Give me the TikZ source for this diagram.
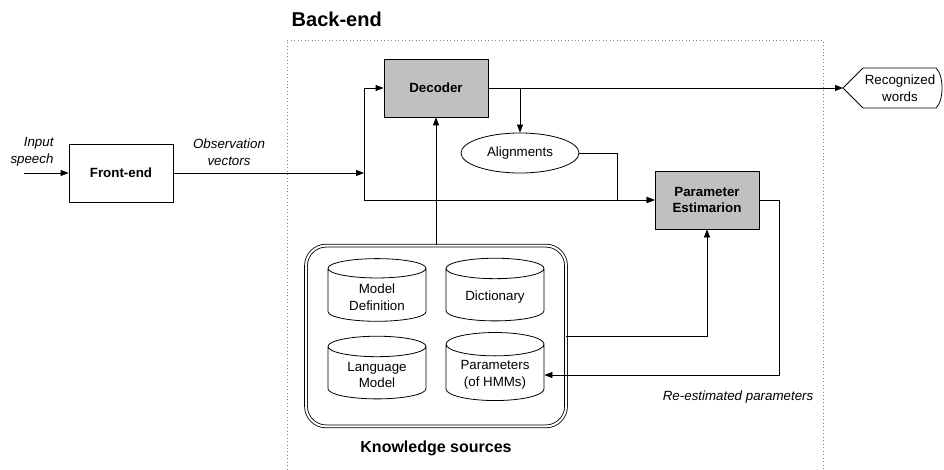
\documentclass[tikz,border=0pt]{standalone}
\usepackage{fontspec}
\setmainfont{Liberation Sans}
\usetikzlibrary{arrows.meta, shapes.geometric, positioning}
\definecolor{boxgray}{HTML}{C0C0C0}

\begin{document}
\begin{tikzpicture}[x=0.75pt, y=-0.75pt, font=\fontsize{10}{12.5}\selectfont,
	arr/.style={draw, line width=0.6pt, -{Triangle[length=6pt,width=4.5pt]}},
	procbox/.style={draw, line width=0.6pt, minimum width=78pt, minimum height=43.5pt, font=\fontsize{10}{12.5}\selectfont\bfseries, align=center},
	graybox/.style={procbox, fill=boxgray},
	store/.style={cylinder, shape border rotate=90, draw, line width=0.6pt, aspect=0.3, minimum width=73.5pt, minimum height=47pt, align=center},
	note/.style={font=\fontsize{10}{12.5}\selectfont\itshape, align=center}]

	\useasboundingbox (0,0) rectangle (944,470);

	% back-end area (runs off the bottom)
	\draw[gray, dotted, line width=0.6pt] (287,480) -- (287,40) -- (823,40) -- (823,480);
	\node[anchor=base west, font=\fontsize{15}{18}\selectfont\bfseries] (backend) at (287,27) {Back-end};

	% blocks
	\node[procbox] (frontend) at (121,173) {Front-end};
	\node[graybox] (decoder) at (436,88) {Decoder};
	\node[graybox] (paramest) at (707,200) {Parameter\\Estimarion};
	\node[ellipse, draw, line width=0.6pt, minimum width=88.5pt, minimum height=30pt] (align) at (520,153) {Alignments};

	% recognized words (display shape)
	\coordinate (recogtip) at (843,88);
	\draw[line width=0.6pt] (recogtip) -- (863,68) -- (936,68) .. controls (944,75) and (944,101) .. (936,108) -- (863,108) -- cycle;
	\node[align=center] (recog) at (900,88) {Recognized\\words};

	% knowledge sources
	\node[draw, double, double distance=1.5pt, line width=0.6pt, rounded corners=15pt, minimum width=195pt, minimum height=135.5pt] (ks) at (436,336) {};
	\node[store] (modeldef) at (377,297) {Model\\Definition};
	\node[store] (dict) at (495,297) {Dictionary};
	\node[store] (langmodel) at (377,375) {Language\\Model};
	\node[store] (params) at (495,375) {Parameters\\(of HMMs)};
	\node[below=7pt of ks, font=\fontsize{12}{14}\selectfont\bfseries] (kslabel) {Knowledge sources};

	% labels
	\node[note, align=right] (speech) at (32,152) {Input\\speech};
	\node[note] (obsvec) at (229,152) {Observation\\vectors};
	\node[note, anchor=east] (reest) at (818,397) {Re-estimated parameters};

	% connections
	\coordinate (speechin) at (24,173);
	\coordinate (obsin) at (364,173);
	\draw[arr] (speechin) -- (frontend);
	\draw[arr] (frontend) -- (obsin);
	\draw[arr] (obsin) |- (decoder.west);
	\draw[arr] (obsin) |- (paramest.west);
	\draw[arr] (decoder.east) -- (recogtip);
	\draw[arr] (decoder.east) -| (align.north);
	\draw[arr] (align.east) -- ++(38,0) |- (paramest.west);
	\draw[arr] (ks.north) -- (decoder.south);
	\draw[arr] (ks.east) -| (paramest.south);
	\draw[arr] (paramest.east) -- ++(20,0) |- (params.east);

\end{tikzpicture}
\end{document}
